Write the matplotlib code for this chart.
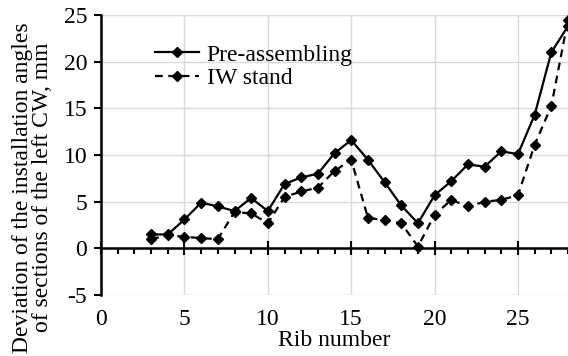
import matplotlib.pyplot as plt
from matplotlib.ticker import MultipleLocator

plt.rcParams['font.family'] = ['Liberation Serif']
plt.rcParams['axes.unicode_minus'] = False

# --------------------------------------------------
# Data: deviation of installation angles per rib
# --------------------------------------------------
ribs = list(range(3, 29))
pre_assembling = [1.5, 1.5, 3.1, 4.9, 4.5, 4.0, 5.4, 4.0, 6.9, 7.6, 8.0, 10.2, 11.6,
                  9.5, 7.1, 4.6, 2.7, 5.7, 7.2, 9.0, 8.75, 10.4, 10.1, 14.3, 21.0, 23.8]
iw_stand = [1.0, 1.4, 1.25, 1.1, 1.0, 3.9, 3.75, 2.7, 5.5, 6.1, 6.5, 8.3, 9.5,
            3.3, 3.0, 2.7, 0.2, 3.6, 5.2, 4.5, 5.0, 5.2, 5.7, 11.1, 15.25, 24.5]
x_ticks = [0, 5, 10, 15, 20, 25]
y_ticks = [-5, 0, 5, 10, 15, 20, 25]

fig = plt.figure(figsize=(5.68, 3.56), dpi=100)
ax = fig.add_axes([0.178, 0.171, 0.822, 0.787])

ax.plot(ribs, pre_assembling, color='black', lw=1.6, marker='D', ms=5.5,
        label='Pre-assembling', clip_on=False, zorder=4)
ax.plot(ribs, iw_stand, color='black', lw=1.6, ls=(0, (3.5, 2.5)), marker='D', ms=5.5,
        label='IW stand', clip_on=False, zorder=4)

ax.set_xlim(0, 28)
ax.set_ylim(-5, 25)
ax.set_xticks(x_ticks)
ax.xaxis.set_minor_locator(MultipleLocator(1))
ax.set_yticks(y_ticks)
ax.grid(True, color='#d9d9d9', lw=1.0)
ax.set_axisbelow(True)

# the x axis line runs along zero, its labels sit below the plot
for side in ['top', 'right']:
    ax.spines[side].set_visible(False)
ax.spines['left'].set_linewidth(1.8)
ax.spines['bottom'].set_position(('data', 0))
ax.spines['bottom'].set_linewidth(1.8)
ax.tick_params(axis='x', which='major', direction='inout', length=10, width=1.5,
               labelbottom=False)
ax.tick_params(axis='x', which='minor', direction='out', length=4, width=1.5)
ax.tick_params(axis='y', length=5, width=1.5, pad=5, labelsize=17)

labels_axis = ax.secondary_xaxis(0)
labels_axis.spines['bottom'].set_visible(False)
labels_axis.set_xticks(x_ticks)
labels_axis.tick_params(axis='x', length=0, pad=10, labelsize=17)
labels_axis.set_xlabel('Rib number', fontsize=17, labelpad=0)

ax.set_ylabel('Deviation of the installation angles\nof sections of the left CW, mm',
              fontsize=17, linespacing=0.95)
ax.yaxis.set_label_coords(-0.103, 0.385)

ax.legend(loc='upper left', bbox_to_anchor=(0.095, 0.93), frameon=False, fontsize=17,
          handlelength=1.85, handletextpad=0.35, labelspacing=0.1, borderaxespad=0)

fig.savefig('out.png', dpi=100)
